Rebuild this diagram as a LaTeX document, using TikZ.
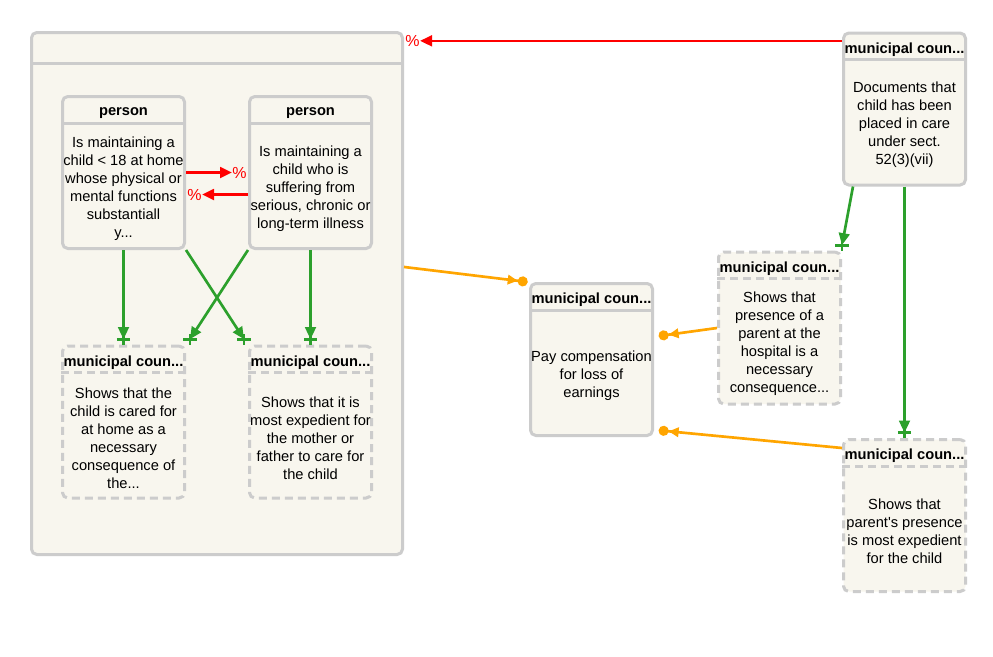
\documentclass[tikz,border=0pt]{standalone}
\usepackage{fontspec}
\setmainfont{Liberation Sans}
\usetikzlibrary{arrows.meta}
\definecolor{boxgray}{HTML}{CCCCCC}
\definecolor{boxfill}{HTML}{F8F6EE}
\definecolor{relred}{HTML}{FF0000}
\definecolor{relgreen}{HTML}{2CA02C}
\definecolor{relorange}{HTML}{FFA500}
\tikzset{
	entity/.style={draw=boxgray, fill=boxfill, line width=2.25pt, rounded corners=4pt, minimum width=91.5pt, minimum height=114pt, inner sep=0pt},
	pending/.style={entity, dash pattern=on 6pt off 3.75pt},
	divider/.style={draw=boxgray, line width=2.25pt},
	pendingdivider/.style={divider, dash pattern=on 6pt off 3.75pt},
	headtext/.style={font=\fontsize{11}{13.5}\selectfont\bfseries, inner sep=0pt},
	bodytext/.style={font=\fontsize{11}{13.5}\selectfont, align=center, inner sep=0pt},
	pct/.style={text=relred, font=\fontsize{12}{13.5}\selectfont, inner sep=0pt},
	excl/.style={draw=relred, line width=2pt, -{Triangle[length=9pt,width=8pt]}, shorten >=12pt},
	req/.style={draw=relgreen, line width=2pt, -{Triangle[length=9pt,width=8pt]}},
	feeds/.style={draw=relorange, line width=2pt, -{Triangle[length=7.5pt,width=7pt,sep=0pt] Circle[length=7.5pt]}},
	onemark/.pic={
		\draw[relgreen, line width=2pt] (0pt,0pt) -- (0pt,8pt);
		\draw[relgreen, line width=2pt] (-5pt,4pt) -- (5pt,4pt);
	}
}
\begin{document}
\begin{tikzpicture}[x=0.75pt, y=-0.75pt]
		\fill[white] (0,0) rectangle (993,657);
		\useasboundingbox (0,0) rectangle (993,657);

		% group frame
		\node[entity, minimum width=278.25pt, minimum height=391.5pt] (frame) at (217,293.5) {};
		\draw[divider] ([yshift=-24pt]frame.north west) -- ([yshift=-24pt]frame.north east);

		% persons
		\node[entity] (p1) at (123.5,172.5) {};
		\draw[divider] ([yshift=-21pt]p1.north west) -- ([yshift=-21pt]p1.north east);
		\node[headtext] (p1t) at (123.5,113) {person};
		\node[bodytext] (p1b) at (123.5,188.5) {Is maintaining a\\child < 18 at home\\whose physical or\\mental functions\\substantiall\\y...};

		\node[entity] (p2) at (310.5,172.5) {};
		\draw[divider] ([yshift=-21pt]p2.north west) -- ([yshift=-21pt]p2.north east);
		\node[headtext] (p2t) at (310.5,113) {person};
		\node[bodytext] (p2b) at (310.5,188.5) {Is maintaining a\\child who is\\suffering from\\serious, chronic or\\long-term illness};

		% municipal council notes
		\node[pending] (n1) at (123.5,422) {};
		\draw[pendingdivider] ([yshift=-21pt]n1.north west) -- ([yshift=-21pt]n1.north east);
		\node[headtext] (n1t) at (123.5,362.5) {municipal coun...};
		\node[bodytext] (n1b) at (123.5,438) {Shows that the\\child is cared for\\at home as a\\necessary\\consequence of\\the...};

		\node[pending] (n2) at (310.5,422) {};
		\draw[pendingdivider] ([yshift=-21pt]n2.north west) -- ([yshift=-21pt]n2.north east);
		\node[headtext] (n2t) at (310.5,362.5) {municipal coun...};
		\node[bodytext] (n2b) at (310.5,438) {Shows that it is\\most expedient for\\the mother or\\father to care for\\the child};

		\node[entity] (pay) at (591.5,359.5) {};
		\draw[divider] ([yshift=-21pt]pay.north west) -- ([yshift=-21pt]pay.north east);
		\node[headtext] (payt) at (591.5,300) {municipal coun...};
		\node[bodytext] (payb) at (591.5,375.5) {Pay compensation\\for loss of\\earnings};

		\node[entity] (doc) at (904.5,109) {};
		\draw[divider] ([yshift=-21pt]doc.north west) -- ([yshift=-21pt]doc.north east);
		\node[headtext] (doct) at (904.5,49.5) {municipal coun...};
		\node[bodytext] (docb) at (904.5,125) {Documents that\\child has been\\placed in care\\under sect.\\52(3)(vii)};

		\node[pending] (n3) at (779.5,328) {};
		\draw[pendingdivider] ([yshift=-21pt]n3.north west) -- ([yshift=-21pt]n3.north east);
		\node[headtext] (n3t) at (779.5,268.5) {municipal coun...};
		\node[bodytext] (n3b) at (779.5,344) {Shows that\\presence of a\\parent at the\\hospital is a\\necessary\\consequence...};

		\node[pending] (n4) at (904.5,515.5) {};
		\draw[pendingdivider] ([yshift=-21pt]n4.north west) -- ([yshift=-21pt]n4.north east);
		\node[headtext] (n4t) at (904.5,456) {municipal coun...};
		\node[bodytext] (n4b) at (904.5,531.5) {Shows that\\parent\textquotesingle s presence\\is most expedient\\for the child};

		% exclusions
		\draw[excl] (p1.east) -- (p2.west) node[pct, pos=1, anchor=east] {\%};
		\draw[excl] ([yshift=-16.5pt]p2.west) -- ([yshift=-16.5pt]p1.east) node[pct, pos=1, anchor=west] {\%};
		\coordinate (docout) at ([yshift=-7pt]doc.north west);
		\draw[excl] (docout) -- (docout -| frame.east) node[pct, pos=1, anchor=west] {\%};

		% requirements
		\draw[req] (p1) -- ([yshift=4pt]n1.north);
		\pic at (n1.north) {onemark};
		\draw[req] (p1.south east) -- ([xshift=-3pt, yshift=4pt]n2.north west);
		\pic at ([xshift=-3pt]n2.north west) {onemark};
		\draw[req] (p2.south west) -- ([xshift=3pt, yshift=4pt]n1.north east);
		\pic at ([xshift=3pt]n1.north east) {onemark};
		\draw[req] (p2) -- ([yshift=4pt]n2.north);
		\pic at (n2.north) {onemark};
		\draw[req] ([xshift=8.25pt]doc.south west) -- ([yshift=4pt]n3.north east);
		\pic at (n3.north east) {onemark};
		\draw[req] (doc) -- ([yshift=4pt]n4.north);
		\pic at (n4.north) {onemark};

		% contributions
		\draw[feeds] ([yshift=19.9pt]frame.east) -- ([xshift=-1pt]pay.north west);
		\draw[feeds] (n3.west) -- ([xshift=3.5pt, yshift=17.6pt]pay.east);
		\draw[feeds] ([yshift=-7.5pt]n4.north west) -- ([xshift=3.5pt, yshift=5pt]pay.south east);
	\end{tikzpicture}
\end{document}
